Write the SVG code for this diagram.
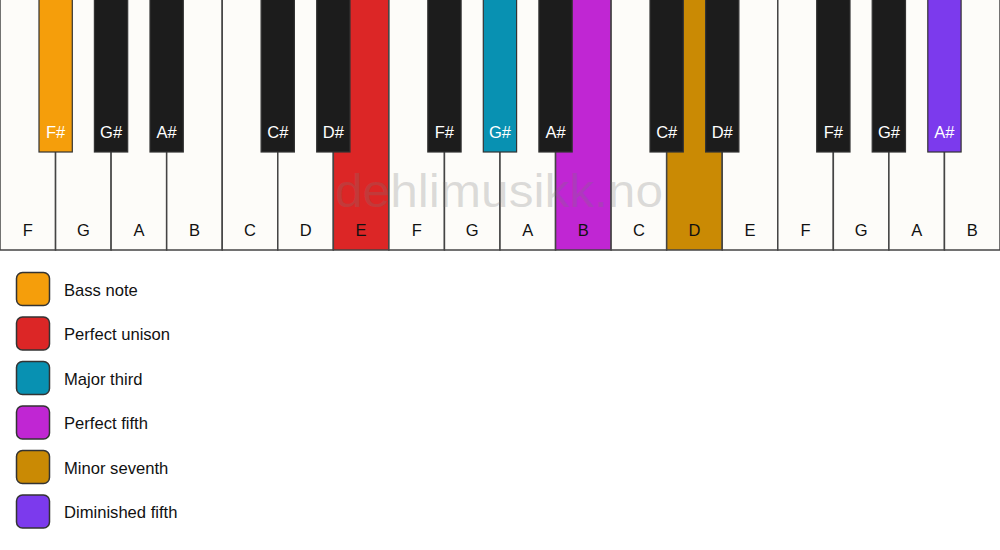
<svg xmlns="http://www.w3.org/2000/svg" width="1000" height="550" viewBox="0 0 1000 550">
<style>
.w{fill:#fdfcf9;stroke:#444;stroke-width:1.5}
.b{fill:#1c1c1c;stroke:#333;stroke-width:1.2}
.wl{font-family:"Liberation Sans",Arial,sans-serif;font-size:16.5px;fill:#111;text-anchor:middle}
.bl{font-family:"Liberation Sans",Arial,sans-serif;font-size:16.5px;fill:#fff;text-anchor:middle}
.lg{stroke:#333;stroke-width:1.5}
.lt{font-family:"Liberation Sans",Arial,sans-serif;font-size:16.6px;fill:#111}
.wm{font-family:"Liberation Sans",Arial,sans-serif;font-size:46px;fill:#777;fill-opacity:0.25}
</style>
<rect width="1000" height="550" fill="#fff"/>
<g id="white-keys">
<g id="w1"><rect class="w" x="0" y="-2" width="55.56" height="252"/><text class="wl" x="27.8" y="236">F</text></g>
<g id="w2"><rect class="w" x="55.56" y="-2" width="55.56" height="252"/><text class="wl" x="83.3" y="236">G</text></g>
<g id="w3"><rect class="w" x="111.11" y="-2" width="55.56" height="252"/><text class="wl" x="138.9" y="236">A</text></g>
<g id="w4"><rect class="w" x="166.67" y="-2" width="55.56" height="252"/><text class="wl" x="194.4" y="236">B</text></g>
<g id="w5"><rect class="w" x="222.22" y="-2" width="55.56" height="252"/><text class="wl" x="250" y="236">C</text></g>
<g id="w6"><rect class="w" x="277.78" y="-2" width="55.56" height="252"/><text class="wl" x="305.6" y="236">D</text></g>
<g id="w7"><rect class="w" x="333.33" y="-2" width="55.56" height="252" style="fill:#dc2626"/><text class="wl" x="361.1" y="236">E</text></g>
<g id="w8"><rect class="w" x="388.89" y="-2" width="55.56" height="252"/><text class="wl" x="416.7" y="236">F</text></g>
<g id="w9"><rect class="w" x="444.44" y="-2" width="55.56" height="252"/><text class="wl" x="472.2" y="236">G</text></g>
<g id="w10"><rect class="w" x="500" y="-2" width="55.56" height="252"/><text class="wl" x="527.8" y="236">A</text></g>
<g id="w11"><rect class="w" x="555.56" y="-2" width="55.56" height="252" style="fill:#c026d3"/><text class="wl" x="583.3" y="236">B</text></g>
<g id="w12"><rect class="w" x="611.11" y="-2" width="55.56" height="252"/><text class="wl" x="638.9" y="236">C</text></g>
<g id="w13"><rect class="w" x="666.67" y="-2" width="55.56" height="252" style="fill:#ca8a04"/><text class="wl" x="694.4" y="236">D</text></g>
<g id="w14"><rect class="w" x="722.22" y="-2" width="55.56" height="252"/><text class="wl" x="750" y="236">E</text></g>
<g id="w15"><rect class="w" x="777.78" y="-2" width="55.56" height="252"/><text class="wl" x="805.6" y="236">F</text></g>
<g id="w16"><rect class="w" x="833.33" y="-2" width="55.56" height="252"/><text class="wl" x="861.1" y="236">G</text></g>
<g id="w17"><rect class="w" x="888.89" y="-2" width="55.56" height="252"/><text class="wl" x="916.7" y="236">A</text></g>
<g id="w18"><rect class="w" x="944.44" y="-2" width="55.56" height="252"/><text class="wl" x="972.2" y="236">B</text></g>
</g>
<text class="wm" x="335" y="207" textLength="328" lengthAdjust="spacingAndGlyphs">dehlimusikk.no</text>
<g id="black-keys">
<g id="b1"><rect class="b" x="39" y="-2" width="33.3" height="154" style="fill:#f59e0b"/><text class="bl" x="55.6" y="138">F#</text></g>
<g id="b2"><rect class="b" x="94.4" y="-2" width="33.3" height="154"/><text class="bl" x="111.1" y="138">G#</text></g>
<g id="b3"><rect class="b" x="150" y="-2" width="33.3" height="154"/><text class="bl" x="166.7" y="138">A#</text></g>
<g id="b4"><rect class="b" x="261.1" y="-2" width="33.3" height="154"/><text class="bl" x="277.8" y="138">C#</text></g>
<g id="b5"><rect class="b" x="316.7" y="-2" width="33.3" height="154"/><text class="bl" x="333.3" y="138">D#</text></g>
<g id="b6"><rect class="b" x="427.8" y="-2" width="33.3" height="154"/><text class="bl" x="444.4" y="138">F#</text></g>
<g id="b7"><rect class="b" x="483.3" y="-2" width="33.3" height="154" style="fill:#0891b2"/><text class="bl" x="500" y="138">G#</text></g>
<g id="b8"><rect class="b" x="538.9" y="-2" width="33.3" height="154"/><text class="bl" x="555.6" y="138">A#</text></g>
<g id="b9"><rect class="b" x="650" y="-2" width="33.3" height="154"/><text class="bl" x="666.7" y="138">C#</text></g>
<g id="b10"><rect class="b" x="705.6" y="-2" width="33.3" height="154"/><text class="bl" x="722.2" y="138">D#</text></g>
<g id="b11"><rect class="b" x="816.7" y="-2" width="33.3" height="154"/><text class="bl" x="833.3" y="138">F#</text></g>
<g id="b12"><rect class="b" x="872.2" y="-2" width="33.3" height="154"/><text class="bl" x="888.9" y="138">G#</text></g>
<g id="b13"><rect class="b" x="927.8" y="-2" width="33.3" height="154" style="fill:#7c3aed"/><text class="bl" x="944.4" y="138">A#</text></g>
</g>
<g id="legend">
<g id="l1"><rect class="lg" x="16.5" y="272.5" width="33" height="33" rx="6" fill="#f59e0b"/><text class="lt" x="64" y="296">Bass note</text></g>
<g id="l2"><rect class="lg" x="16.5" y="317" width="33" height="33" rx="6" fill="#dc2626"/><text class="lt" x="64" y="340">Perfect unison</text></g>
<g id="l3"><rect class="lg" x="16.5" y="361.5" width="33" height="33" rx="6" fill="#0891b2"/><text class="lt" x="64" y="385">Major third</text></g>
<g id="l4"><rect class="lg" x="16.5" y="406" width="33" height="33" rx="6" fill="#c026d3"/><text class="lt" x="64" y="429">Perfect fifth</text></g>
<g id="l5"><rect class="lg" x="16.5" y="450.5" width="33" height="33" rx="6" fill="#ca8a04"/><text class="lt" x="64" y="474">Minor seventh</text></g>
<g id="l6"><rect class="lg" x="16.5" y="495" width="33" height="33" rx="6" fill="#7c3aed"/><text class="lt" x="64" y="518">Diminished fifth</text></g>
</g>
</svg>
